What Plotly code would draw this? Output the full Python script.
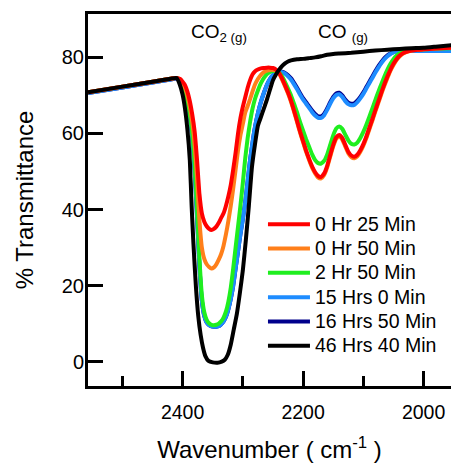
import plotly.graph_objects as go

# ---------------- data ----------------
WAVENUMBER = [2557, 2500, 2450, 2420, 2410, 2404, 2400, 2396, 2392, 2388,
              2384, 2380, 2376, 2372, 2368, 2364, 2360, 2356, 2352, 2348,
              2344, 2340, 2336, 2332, 2328, 2324, 2320, 2316, 2312, 2308,
              2304, 2300, 2296, 2292, 2288, 2284, 2280, 2275, 2270, 2265,
              2260, 2255, 2250, 2245, 2240, 2235, 2230, 2225, 2220, 2215,
              2210, 2205, 2200, 2195, 2190, 2185, 2180, 2175, 2170, 2165,
              2160, 2155, 2150, 2145, 2140, 2135, 2130, 2125, 2120, 2115,
              2110, 2105, 2100, 2095, 2090, 2085, 2080, 2075, 2070, 2065,
              2060, 2055, 2050, 2045, 2040, 2035, 2030, 2020, 2010, 2000,
              1980, 1954]

T_0H25 = [70.8, 72.3, 73.6, 74.4, 74.6, 74.3, 73.6, 72.7, 71.0, 68.5,
          65.0, 60.5, 53.0, 44.0, 39.0, 36.8, 35.6, 34.9, 34.6, 34.9,
          35.5, 36.5, 37.8, 39.0, 41.0, 43.5, 46.5, 50.5, 55.0, 60.0,
          64.0, 67.0, 69.5, 72.0, 74.0, 75.5, 76.3, 76.8, 77.1, 77.2,
          77.3, 77.3, 77.2, 76.8, 75.9, 74.5, 72.7, 70.8, 68.6, 66.0,
          63.3, 60.5, 58.0, 55.5, 53.3, 51.3, 49.8, 48.8, 48.6, 49.5,
          51.5, 54.3, 57.0, 59.0, 59.6, 58.8, 57.0, 55.2, 54.2, 53.9,
          54.4, 55.6, 57.2, 59.2, 61.5, 63.8, 66.2, 68.5, 70.8, 73.0,
          75.0, 76.8, 78.3, 79.5, 80.4, 81.0, 81.4, 81.8, 82.0, 82.1,
          82.3, 82.5]

T_0H50 = [70.8, 72.3, 73.6, 74.4, 74.6, 74.1, 73.2, 72.0, 70.0, 67.0,
          63.0, 57.0, 48.0, 37.0, 30.0, 27.0, 25.6, 24.9, 24.5, 24.8,
          25.6, 26.8, 28.3, 30.5, 33.5, 37.0, 41.0, 45.5, 50.5, 55.5,
          59.5, 62.5, 65.5, 67.2, 69.0, 71.0, 72.8, 74.3, 75.4, 76.1,
          76.5, 76.7, 76.7, 76.5, 75.8, 74.2, 72.4, 70.5, 68.3, 65.7,
          63.0, 60.2, 57.7, 55.2, 53.0, 51.0, 49.5, 48.4, 48.2, 49.1,
          51.1, 53.9, 56.6, 58.6, 59.2, 58.4, 56.6, 54.8, 53.8, 53.5,
          54.0, 55.2, 56.8, 58.8, 61.1, 63.4, 65.8, 68.1, 70.4, 72.6,
          74.6, 76.5, 78.0, 79.3, 80.2, 80.9, 81.3, 81.8, 82.0, 82.1,
          82.3, 82.5]

T_2H50 = [70.8, 72.3, 73.6, 74.4, 74.6, 74.0, 72.8, 71.0, 68.5, 65.0,
          60.0, 52.0, 40.0, 27.0, 17.5, 13.0, 11.0, 10.1, 9.7, 9.6,
          9.7, 10.0, 10.6, 11.6, 13.2, 15.8, 19.5, 24.5, 30.0, 35.5,
          41.0, 47.0, 53.5, 58.8, 63.0, 66.5, 69.0, 71.3, 73.2, 74.6,
          75.6, 76.2, 76.4, 76.4, 76.0, 75.0, 73.5, 71.8, 70.0, 67.8,
          65.5, 63.0, 60.7, 58.5, 56.5, 54.5, 53.0, 52.2, 52.1, 52.8,
          54.5, 57.0, 59.5, 61.3, 61.8, 61.2, 59.7, 58.2, 57.3, 57.1,
          57.6, 58.8, 60.4, 62.3, 64.4, 66.6, 68.8, 71.0, 73.0, 75.0,
          76.8, 78.3, 79.5, 80.4, 81.0, 81.4, 81.6, 81.9, 82.0, 82.1,
          82.3, 82.4]

T_15H00 = [70.6, 72.1, 73.4, 74.2, 74.4, 73.8, 72.5, 70.5, 68.0, 64.5,
           59.0, 50.5, 38.0, 25.0, 16.0, 12.0, 10.3, 9.6, 9.3, 9.2,
           9.2, 9.3, 9.8, 10.6, 11.8, 13.8, 16.5, 20.0, 24.5, 29.0,
           33.5, 37.5, 42.0, 47.5, 53.0, 57.5, 61.5, 65.3, 68.3, 70.7,
           72.8, 74.3, 75.3, 76.0, 76.2, 76.1, 75.7, 75.0, 74.1, 72.9,
           71.6, 70.2, 68.9, 67.8, 66.7, 65.6, 64.7, 64.1, 64.1, 64.8,
           66.2, 67.8, 69.2, 70.1, 70.3, 69.6, 68.5, 67.7, 67.4, 67.5,
           68.2, 69.2, 70.4, 71.8, 73.2, 74.6, 76.0, 77.3, 78.5, 79.5,
           80.3, 80.9, 81.3, 81.5, 81.6, 81.6, 81.7, 81.7, 81.7, 81.7,
           81.7, 81.7]

T_16H50 = [70.6, 72.1, 73.4, 74.2, 74.4, 73.8, 72.5, 70.5, 68.0, 64.5,
           59.0, 50.5, 38.0, 25.0, 16.0, 12.0, 10.3, 9.6, 9.3, 9.2,
           9.2, 9.3, 9.8, 10.6, 11.8, 13.8, 16.5, 20.0, 24.5, 29.0,
           33.5, 37.5, 42.0, 47.5, 53.0, 57.5, 61.5, 65.3, 68.3, 70.7,
           72.8, 74.3, 75.3, 76.0, 76.2, 76.2, 75.9, 75.3, 74.5, 73.3,
           72.0, 70.6, 69.3, 68.2, 67.1, 66.0, 65.1, 64.5, 64.5, 65.2,
           66.6, 68.2, 69.6, 70.5, 70.7, 70.0, 68.9, 68.1, 67.8, 67.9,
           68.6, 69.6, 70.8, 72.2, 73.6, 75.0, 76.4, 77.7, 78.8, 79.8,
           80.5, 81.0, 81.4, 81.6, 81.7, 81.7, 81.8, 81.8, 81.8, 81.8,
           81.8, 81.8]

WAVENUMBER_46H = [2557, 2500, 2450, 2420, 2410, 2405, 2400, 2396, 2392, 2388,
                  2385, 2382, 2378, 2374, 2370, 2366, 2362, 2357, 2350, 2342,
                  2335, 2330, 2325, 2320, 2315, 2310, 2305, 2300, 2295, 2290,
                  2285, 2280, 2275, 2270, 2265, 2260, 2255, 2250, 2245, 2240,
                  2235, 2230, 2225, 2220, 2210, 2200, 2190, 2180, 2170, 2160,
                  2150, 2140, 2120, 2100, 2080, 2060, 2040, 2020, 2000, 1980,
                  1954]
T_46H40 = [70.8, 72.3, 73.6, 74.4, 74.6, 73.0, 70.2, 66.5, 61.0, 53.0,
           41.0, 31.0, 20.0, 12.0, 7.0, 3.6, 1.4, 0.2, -0.2, -0.3,
           0.0, 0.5, 1.8, 4.5, 8.5, 12.5, 18.0, 24.0, 32.0, 41.0,
           51.0, 57.0, 62.0, 64.3, 66.6, 68.9, 71.5, 74.0, 75.5, 76.7,
           77.7, 78.4, 78.9, 79.2, 79.5, 79.6, 79.8, 80.0, 80.3, 80.7,
           80.9, 81.0, 81.2, 81.5, 81.8, 82.0, 82.2, 82.4, 82.5, 82.8,
           83.2]

SERIES_NAMES = ["0 Hr 25 Min", "0 Hr 50 Min", "2 Hr 50 Min",
                "15 Hrs 0 Min", "16 Hrs 50 Min", "46 Hrs 40 Min"]
Y_TICKS = [0, 20, 40, 60, 80]
X_TICKS = [2400, 2200, 2000]

# ---------------- figure ----------------
FONT = "Helvetica, Liberation Sans, Arial, sans-serif"
series = [
    # (name, x, y, colour, legend rank)  -- listed in drawing order
    (SERIES_NAMES[4], WAVENUMBER, T_16H50, "#00008C", 5),
    (SERIES_NAMES[3], WAVENUMBER, T_15H00, "#1E8CFF", 4),
    (SERIES_NAMES[2], WAVENUMBER, T_2H50, "#1FEE1F", 3),
    (SERIES_NAMES[1], WAVENUMBER, T_0H50, "#FF7F1A", 2),
    (SERIES_NAMES[0], WAVENUMBER, T_0H25, "#FF0000", 1),
    (SERIES_NAMES[5], WAVENUMBER_46H, T_46H40, "#000000", 6),
]

fig = go.Figure()
for name, xs, ys, col, rank in series:
    fig.add_trace(go.Scatter(
        x=xs, y=ys, mode="lines",
        name='<span style="font-size:19.5px">' + name + "</span>",
        line=dict(color=col, width=4, shape="spline", smoothing=0.5),
        legendrank=rank,
    ))

fig.update_layout(
    width=451, height=463,
    margin=dict(l=88, r=0, t=14, b=77, autoexpand=False),
    paper_bgcolor="white", plot_bgcolor="white",
    font=dict(family=FONT, size=19, color="black"),
    showlegend=True,
    legend=dict(
        x=0.482, y=0.481, xanchor="left", yanchor="top",
        bgcolor="rgba(0,0,0,0)", font=dict(size=16.4, family=FONT),
        itemwidth=42, tracegroupgap=0,
    ),
    xaxis=dict(
        range=[2557, 1954.5], tickvals=X_TICKS, ticktext=[str(v) for v in X_TICKS],
        showline=True, linewidth=3, linecolor="black", mirror=True,
        ticks="inside", ticklen=15, tickwidth=3, tickcolor="black",
        minor=dict(dtick=100, tick0=2000, ticks="inside", ticklen=10,
                   tickwidth=3, tickcolor="black"),
        showgrid=False, zeroline=False, automargin=False,
        tickfont=dict(size=19.5), ticklabelstandoff=7,
        title=dict(text="Wavenumber ( cm<sup>-1</sup> )", font=dict(size=24), standoff=29),
    ),
    yaxis=dict(
        range=[-6.4, 91.4], tickvals=Y_TICKS,
        showline=True, linewidth=3, linecolor="black", mirror=False,
        ticks="inside", ticklen=15, tickwidth=3, tickcolor="black",
        showgrid=False, zeroline=False, automargin=False,
        tickfont=dict(size=20), ticklabelstandoff=-3,
        title=dict(text="% Transmittance", font=dict(size=24), standoff=22),
    ),
    annotations=[
        dict(x=2339, y=86.3, xref="x", yref="y", text="CO<sub>2 (g)</sub>",
             showarrow=False, font=dict(size=19, family=FONT), yanchor="middle"),
        dict(x=2134, y=86.3, xref="x", yref="y", text="CO <sub>(g)</sub>",
             showarrow=False, font=dict(size=19, family=FONT), yanchor="middle"),
    ],
)

fig.write_html(
    "out.html",
    config={"displayModeBar": False},
    post_script="document.body.style.margin='0px';"
                "document.documentElement.style.overflow='hidden';",
)
